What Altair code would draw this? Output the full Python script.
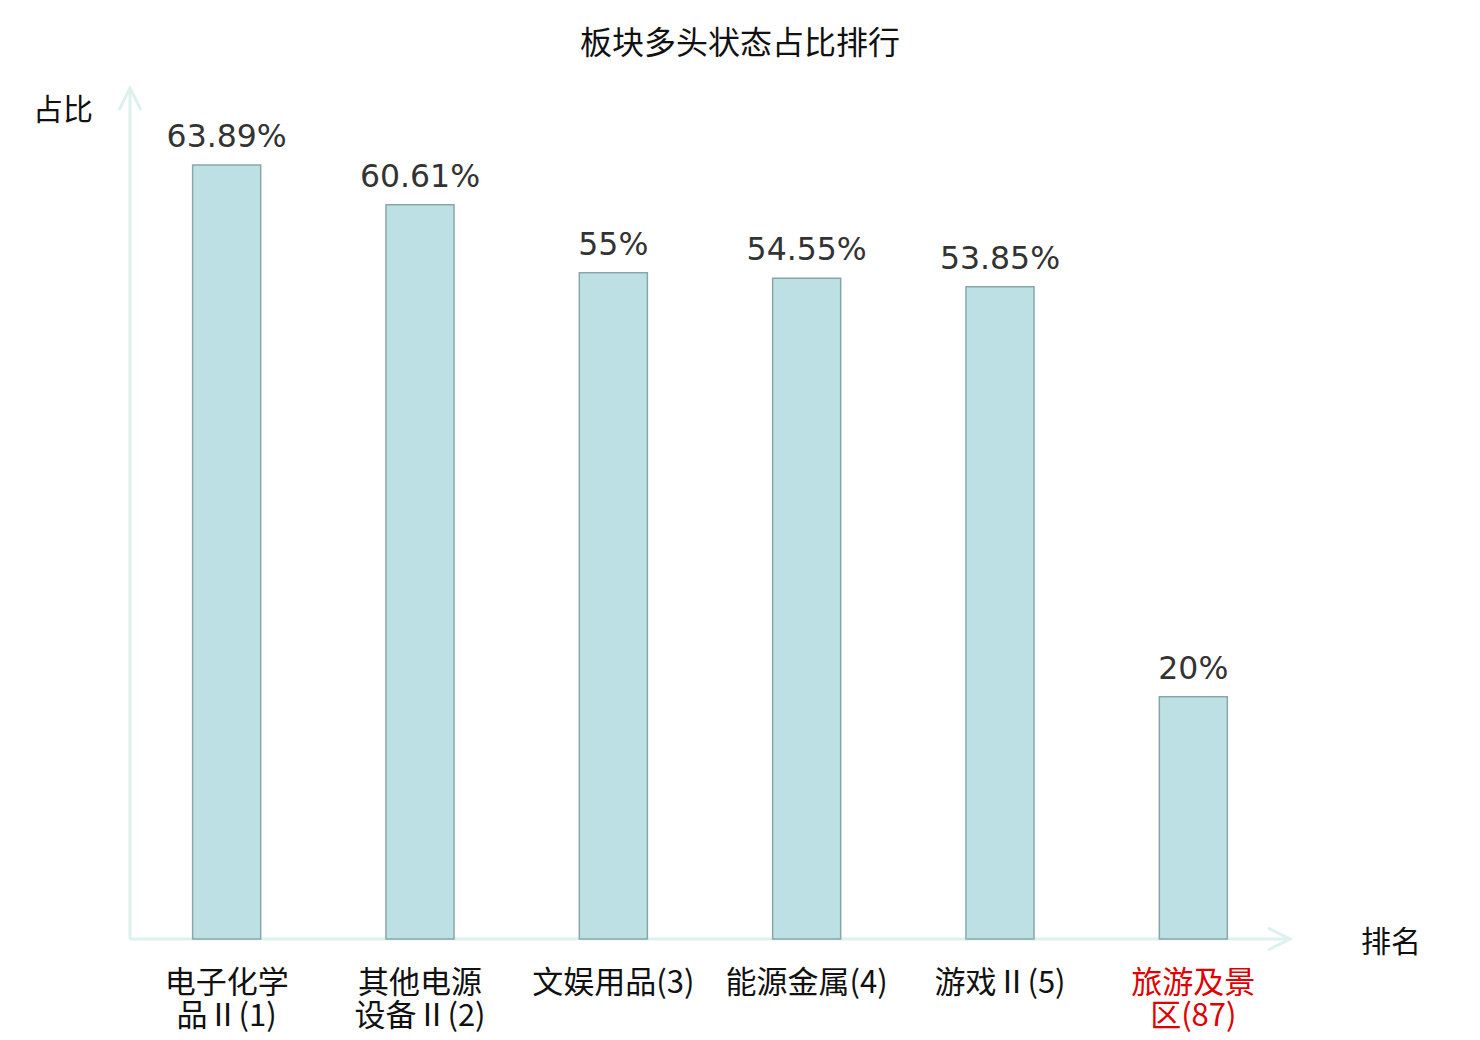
import altair as alt
import pandas as pd

categories = ["电子化学品Ⅱ(1)", "其他电源设备Ⅱ(2)", "文娱用品(3)", "能源金属(4)", "游戏Ⅱ(5)", "旅游及景区(87)"]
tick_labels = ["电子化学\n品Ⅱ(1)", "其他电源\n设备Ⅱ(2)", "文娱用品(3)", "能源金属(4)", "游戏Ⅱ(5)", "旅游及景\n区(87)"]
values = [63.89, 60.61, 55, 54.55, 53.85, 20]
value_labels = ["63.89%", "60.61%", "55%", "54.55%", "53.85%", "20%"]
highlight = [False, False, False, False, False, True]

W, H = 1160, 848
df = pd.DataFrame({"cat": categories, "tick": tick_labels, "val": values,
                   "vlab": value_labels, "hi": highlight})

xs = alt.X("cat:N", sort=categories,
           scale=alt.Scale(paddingInner=0.648, paddingOuter=0.324), axis=None)
ys = alt.Y("val:Q", scale=alt.Scale(domain=[0, 70]), axis=None)

base = alt.Chart(df)

bars = base.mark_bar(fill="#bce0e3", stroke="#8aa7a8", strokeWidth=1.5).encode(x=xs, y=ys)

vtext = base.mark_text(font="DejaVu Sans", fontSize=31.5, color="#333333",
                       baseline="alphabetic", dy=-18).encode(x=xs, y=ys, text="vlab:N")

ticks = base.mark_text(font="Noto Sans CJK SC", fontSize=31, baseline="top",
                       lineBreak="\n", lineHeight=33).encode(
    x=xs, y=alt.value(H + 30), text="tick:N",
    color=alt.condition("datum.hi", alt.value("#e00000"), alt.value("#111111")))

axis_color = "#ddf1ef"
ann = pd.DataFrame({"k": [1]})
abase = alt.Chart(ann)
xaxis = abase.mark_rule(color=axis_color, strokeWidth=3).encode(
    x=alt.value(0), x2=alt.value(W - 1), y=alt.value(H))
yaxis = abase.mark_rule(color=axis_color, strokeWidth=3).encode(
    x=alt.value(0), y=alt.value(H), y2=alt.value(-2))
xarrow = abase.mark_point(shape="M-1,-0.5L0,0L-1,0.5", size=1936, filled=False,
                          stroke=axis_color, strokeWidth=3, opacity=1).encode(
    x=alt.value(W), y=alt.value(H))
yarrow = abase.mark_point(shape="M-0.5,1L0,0L0.5,1", size=1936, filled=False,
                          stroke=axis_color, strokeWidth=3, opacity=1).encode(
    x=alt.value(0), y=alt.value(-3))

title = abase.mark_text(font="Noto Sans CJK SC", fontSize=32, color="#111111",
                        baseline="middle").encode(
    x=alt.value(610), y=alt.value(-47), text=alt.value("板块多头状态占比排行"))
ytitle = abase.mark_text(font="Noto Sans CJK SC", fontSize=30, color="#111111",
                         baseline="middle").encode(
    x=alt.value(-67), y=alt.value(20), text=alt.value("占比"))
xtitle = abase.mark_text(font="Noto Sans CJK SC", fontSize=30, color="#111111",
                         baseline="middle").encode(
    x=alt.value(1261), y=alt.value(852), text=alt.value("排名"))

chart = alt.layer(xaxis, yaxis, xarrow, yarrow, bars, vtext, ticks, title, ytitle, xtitle).properties(
    width=W, height=H,
    background="white",
    autosize=alt.AutoSizeParams(type="none"),
    padding={"left": 122, "top": 83, "right": 182, "bottom": 100},
).configure_view(stroke=None, strokeWidth=0)

chart.save("out.html", embed_options={"renderer": "svg", "actions": False})
